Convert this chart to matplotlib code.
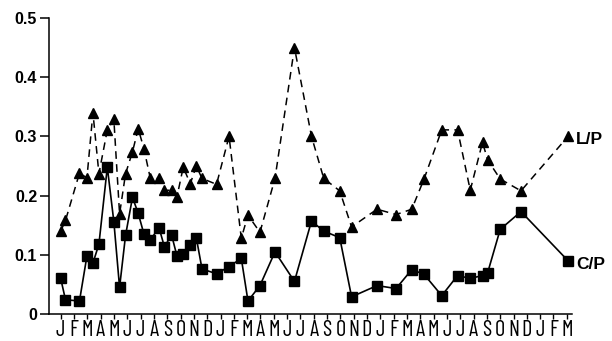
import numpy as np
import matplotlib
matplotlib.use("Agg")
import matplotlib.pyplot as plt

# sampling dates in months from the first January (J = 0)
months = [0.0, 0.36, 1.41, 1.97, 2.42, 2.87, 3.5, 3.99, 4.42, 4.87,
          5.39, 5.82, 6.25, 6.73, 7.38, 7.78, 8.33, 8.73, 9.2, 9.73,
          10.18, 10.61, 11.7, 12.64, 13.56, 14.06, 14.96, 16.09, 17.55, 18.83,
          19.75, 20.95, 21.84, 23.75, 25.18, 26.36, 27.28, 28.61, 29.8, 30.75,
          31.67, 32.06, 33.0, 34.56, 38.09]

lp = [0.14, 0.158, 0.238, 0.23, 0.34, 0.237, 0.311, 0.329, 0.169, 0.237,
      0.274, 0.313, 0.279, 0.229, 0.229, 0.209, 0.209, 0.198, 0.248, 0.22,
      0.25, 0.229, 0.219, 0.30, 0.128, 0.167, 0.138, 0.229, 0.45, 0.30,
      0.229, 0.208, 0.147, 0.177, 0.168, 0.177, 0.228, 0.311, 0.311, 0.209,
      0.29, 0.26, 0.228, 0.208, 0.30]

cp = [0.060, 0.024, 0.022, 0.098, 0.086, 0.118, 0.248, 0.156, 0.045, 0.133,
      0.197, 0.170, 0.135, 0.125, 0.146, 0.114, 0.133, 0.098, 0.101, 0.116,
      0.129, 0.076, 0.068, 0.080, 0.094, 0.022, 0.048, 0.105, 0.055, 0.157,
      0.140, 0.129, 0.029, 0.048, 0.043, 0.075, 0.067, 0.031, 0.065, 0.060,
      0.065, 0.070, 0.143, 0.173, 0.090]

month_labels = list("JFMAMJJASOND" * 3 + "JFM")
yticks = [0, 0.1, 0.2, 0.3, 0.4, 0.5]
ytick_labels = ["0", "0.1", "0.2", "0.3", "0.4", "0.5"]

helv = ["Liberation Sans", "DejaVu Sans"]

fig = plt.figure(figsize=(6.12, 3.41), dpi=100)
ax = fig.add_axes([0.0796, 0.0792, 0.934 - 0.0796, 0.868])

ax.plot(months, lp, color="black", lw=1.1, ls=(0, (5, 3.5)),
        marker="^", ms=7.5, mfc="black", mec="black", clip_on=False)
ax.plot(months, cp, color="black", lw=1.2, ls="-",
        marker="s", ms=6.5, mfc="black", mec="black", clip_on=False)

ax.text(months[-1] + 0.6, lp[-1] - 0.006, "L/P", fontsize=12.5, fontweight="bold",
        family=helv, va="center", ha="left")
ax.text(months[-1] + 0.6, cp[-1] - 0.006, "C/P", fontsize=12.5, fontweight="bold",
        family=helv, va="center", ha="left")

ax.set_xlim(-0.9, 38.36)
ax.set_ylim(0, 0.5)

ax.set_xticks(range(len(month_labels)))
ax.set_xticklabels(month_labels, fontsize=16,
                   family=["Barlow Condensed", "DejaVu Sans"], fontstretch="condensed")
ax.set_yticks(yticks)
ax.set_yticklabels(ytick_labels, fontsize=11.5, fontweight="bold", family=helv)

for s in ["top", "right"]:
    ax.spines[s].set_visible(False)
for s in ["left", "bottom"]:
    ax.spines[s].set_linewidth(1.1)

ax.tick_params(axis="x", direction="out", length=3.6, width=1, pad=0.5)
ax.tick_params(axis="y", direction="out", length=6.8, width=1.1, pad=1.5)

fig.savefig("out.png", dpi=100)
